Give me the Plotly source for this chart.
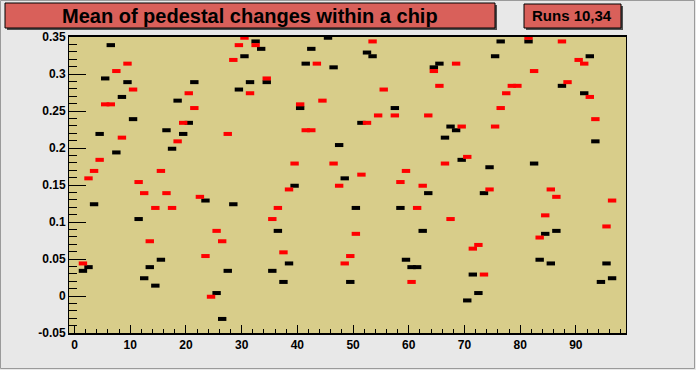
import plotly.graph_objects as go

# channel index (points are drawn at index + 0.5)
idx = list(range(1, 97))

black_vals = [0.034, 0.039, 0.124, 0.219, 0.294, 0.339, 0.194, 0.269, 0.289, 0.239,
              0.104, 0.024, 0.039, 0.014, 0.049, 0.224, 0.199, 0.264, 0.219, 0.234,
              0.289, None, 0.129, None, 0.004, -0.031, 0.034, 0.124, 0.279, 0.324,
              0.289, 0.344, 0.334, 0.289, 0.034, 0.088, 0.019, 0.044, 0.149, 0.254,
              0.314, 0.334, None, None, 0.349, 0.309, 0.204, 0.159, 0.019, 0.119,
              0.234, 0.329, 0.324, None, None, None, 0.254, 0.119, 0.049, 0.039,
              0.039, 0.088, 0.139, 0.309, 0.314, 0.214, 0.229, 0.224, 0.184, -0.006,
              0.029, 0.004, 0.139, 0.174, 0.324, 0.344, None, None, None, None,
              0.344, 0.179, 0.049, 0.084, 0.044, 0.088, 0.284, None, None, None,
              0.274, 0.324, 0.209, 0.019, 0.044, 0.024]

red_vals = [0.044, 0.159, 0.169, 0.184, 0.259, 0.259, 0.304, 0.214, 0.314, 0.279,
            0.154, 0.139, 0.074, 0.119, 0.169, 0.139, 0.119, 0.209, 0.234, 0.274,
            0.254, 0.134, 0.054, -0.001, 0.088, 0.074, 0.219, 0.319, 0.339, 0.349,
            0.274, 0.339, None, 0.294, 0.104, 0.119, 0.059, 0.144, 0.179, 0.259,
            0.224, 0.224, 0.314, 0.264, None, 0.179, 0.149, 0.044, 0.054, 0.084,
            0.164, 0.234, 0.344, 0.244, 0.279, None, 0.244, 0.154, 0.169, 0.019,
            0.119, 0.149, 0.244, 0.304, 0.284, 0.179, 0.104, 0.314, 0.229, 0.188,
            0.064, 0.069, 0.029, 0.144, 0.229, 0.254, 0.274, 0.284, 0.284, None,
            0.349, 0.304, 0.079, 0.109, 0.144, 0.134, 0.344, 0.289, None, 0.319,
            0.314, 0.269, 0.239, None, 0.094, 0.129]

x_ticks = [0, 10, 20, 30, 40, 50, 60, 70, 80, 90]
y_ticks = [-0.05, 0, 0.05, 0.1, 0.15, 0.2, 0.25, 0.3, 0.35]
y_tick_text = ["-0.05", "0", "0.05", "0.1", "0.15", "0.2", "0.25", "0.3", "0.35"]

title_text = "Mean of pedestal changes within a chip"
runs_text = "Runs 10,34"

xs = [i + 0.5 for i in idx]

W, H = 696, 370
L, R, T, B = 69, 626, 37, 333
PW, PH = R - L, B - T


def px(x):
    return (x - L) / PW


def py(y):
    return (B - y) / PH


fig = go.Figure()
for vals, col in [(black_vals, "#000000"), (red_vals, "#ff0000")]:
    fig.add_trace(go.Scatter(
        x=xs, y=vals, mode="markers", cliponaxis=True,
        marker=dict(symbol="line-ew", size=6, color=col,
                    line=dict(color=col, width=4)),
        showlegend=False, hoverinfo="x+y"))

font_family = "Liberation Sans, Arial, sans-serif"

fig.update_layout(
    width=W, height=H,
    margin=dict(l=L, r=W - R, t=T, b=H - B, pad=0),
    paper_bgcolor="#e8e8e8",
    plot_bgcolor="#d8cd8a",
    font=dict(family=font_family, color="#000000", size=12),
    xaxis=dict(range=[-1, 99], tickvals=x_ticks,
               ticktext=["<b>%d</b>" % v for v in x_ticks],
               ticks="inside", ticklen=8,
               tickcolor="#000000", showgrid=False, zeroline=False,
               showline=True, linecolor="#000000", linewidth=2, mirror=True,
               tickfont=dict(family=font_family, size=12, color="#000000"),
               minor=dict(dtick=2, tick0=0, ticks="inside", ticklen=4, tickcolor="#000000")),
    yaxis=dict(range=[-0.05, 0.35], tickvals=y_ticks,
               ticktext=["<b>%s</b>" % t for t in y_tick_text],
               ticks="inside", ticklen=17, tickcolor="#000000",
               showgrid=False, zeroline=False,
               showline=True, linecolor="#000000", linewidth=1, mirror=True,
               tickfont=dict(family=font_family, size=12, color="#000000"),
               minor=dict(dtick=0.01, tick0=0, ticks="inside", ticklen=8, tickcolor="#000000")),
)

shapes = []
# canvas bevel
shapes.append(dict(type="rect", xref="paper", yref="paper",
                   x0=px(0.5), x1=px(W - 1.5), y0=py(H - 1.5), y1=py(0.5),
                   line=dict(color="#9a9a9a", width=1), fillcolor="rgba(0,0,0,0)", layer="below"))
# title box shadow + box
shapes.append(dict(type="rect", xref="paper", yref="paper",
                   x0=px(7), x1=px(497), y0=py(30), y1=py(5),
                   line=dict(width=0), fillcolor="#505050"))
shapes.append(dict(type="rect", xref="paper", yref="paper",
                   x0=px(5), x1=px(495), y0=py(28), y1=py(3),
                   line=dict(color="#000000", width=1), fillcolor="#d9605a"))
# runs box
shapes.append(dict(type="rect", xref="paper", yref="paper",
                   x0=px(526), x1=px(623), y0=py(30), y1=py(6),
                   line=dict(width=0), fillcolor="#505050"))
shapes.append(dict(type="rect", xref="paper", yref="paper",
                   x0=px(524), x1=px(621), y0=py(28), y1=py(4),
                   line=dict(color="#000000", width=1), fillcolor="#d9605a"))
fig.update_layout(shapes=shapes)

fig.add_annotation(text="<b>%s</b>" % title_text, xref="paper", yref="paper",
                   x=px(250), y=py(16), showarrow=False,
                   font=dict(family=font_family, size=20, color="#000000"),
                   xanchor="center", yanchor="middle")
fig.add_annotation(text="<b>%s</b>" % runs_text, xref="paper", yref="paper",
                   x=px(572), y=py(16), showarrow=False,
                   font=dict(family=font_family, size=15, color="#000000"),
                   xanchor="center", yanchor="middle")

fig.write_html("out.html", config={"displayModeBar": False},
               post_script="document.body.style.margin='0';document.body.style.padding='0';")
